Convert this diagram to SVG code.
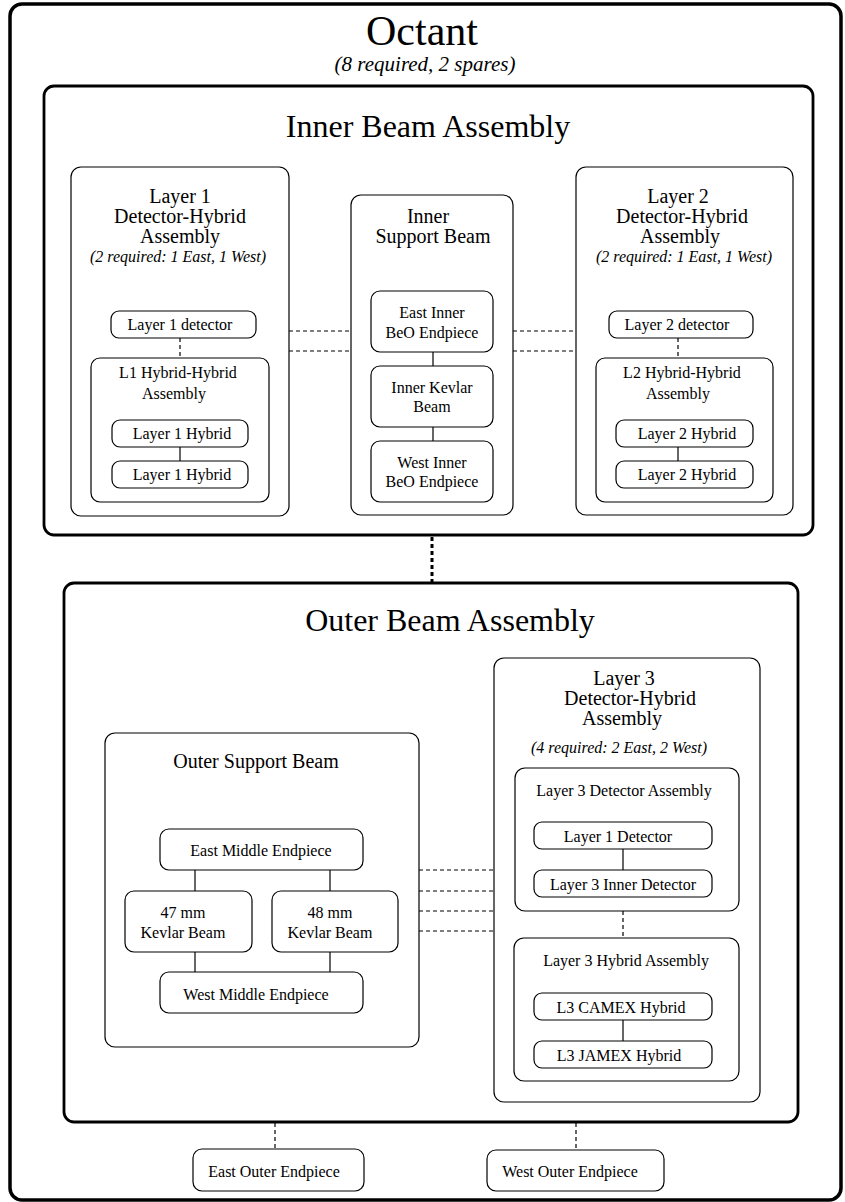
<svg xmlns="http://www.w3.org/2000/svg" width="845" height="1202" viewBox="0 0 845 1202">
<style>
text{font-family:"Liberation Serif","Times New Roman",serif;fill:#000;text-anchor:middle}
.big{font-size:42px}
.h1{font-size:32px}
.h2{font-size:20px}
.s{font-size:16px}
.it{font-style:italic;font-size:16px}
.it2{font-style:italic;font-size:21px}
.b3{fill:#fff;stroke:#000;stroke-width:3.5}
.b2{fill:#fff;stroke:#000;stroke-width:2.8}
.b1{fill:#fff;stroke:#000;stroke-width:1.2}
.solid{stroke:#000;stroke-width:1.2;fill:none}
.dash{stroke:#000;stroke-width:1.2;fill:none;stroke-dasharray:4 3}
.dot{stroke:#000;stroke-width:3;fill:none;stroke-dasharray:4 3}
</style>
<rect width="845" height="1202" fill="#fff"/>
<g id="octant">
<rect class="b3" x="10" y="4" width="831" height="1196" rx="12"/>
<text class="big" x="422" y="45">Octant</text>
<text class="it2" x="425" y="71">(8 required, 2 spares)</text>
</g>
<g id="inner-beam-assembly">
<rect class="b2" x="44" y="86" width="769" height="449" rx="10"/>
<text class="h1" x="428" y="137">Inner Beam Assembly</text>
</g>
<g id="layer1-dha">
<rect class="b1" x="71" y="167" width="218" height="349" rx="10"/>
<text class="h2" x="180" y="203">Layer 1</text>
<text class="h2" x="180" y="223">Detector-Hybrid</text>
<text class="h2" x="180" y="243">Assembly</text>
<text class="it" x="178" y="262">(2 required: 1 East, 1 West)</text>
</g>
<g id="layer1-detector">
<rect class="b1" x="111" y="311" width="145" height="27" rx="8"/>
<text class="s" x="180" y="330">Layer 1 detector</text>
</g>
<g id="l1-hh">
<rect class="b1" x="91" y="358" width="178" height="144" rx="9"/>
<text class="s" x="178" y="378">L1 Hybrid-Hybrid</text>
<text class="s" x="174" y="399">Assembly</text>
</g>
<g id="layer1-hybrid-a">
<rect class="b1" x="112" y="420" width="136" height="27" rx="8"/>
<text class="s" x="182" y="439">Layer 1 Hybrid</text>
</g>
<g id="layer1-hybrid-b">
<rect class="b1" x="112" y="461" width="136" height="27" rx="8"/>
<text class="s" x="182" y="480">Layer 1 Hybrid</text>
</g>
<g id="inner-support-beam">
<rect class="b1" x="351" y="195" width="162" height="320" rx="10"/>
<text class="h2" x="428" y="223">Inner</text>
<text class="h2" x="433" y="243">Support Beam</text>
</g>
<g id="east-inner-beo">
<rect class="b1" x="371" y="291" width="122" height="61" rx="9"/>
<text class="s" x="432" y="318">East Inner</text>
<text class="s" x="432" y="338">BeO Endpiece</text>
</g>
<g id="inner-kevlar">
<rect class="b1" x="371" y="366" width="122" height="61" rx="9"/>
<text class="s" x="432" y="393">Inner Kevlar</text>
<text class="s" x="432" y="412">Beam</text>
</g>
<g id="west-inner-beo">
<rect class="b1" x="371" y="441" width="122" height="61" rx="9"/>
<text class="s" x="432" y="468">West Inner</text>
<text class="s" x="432" y="487">BeO Endpiece</text>
</g>
<g id="layer2-dha">
<rect class="b1" x="576" y="167" width="217" height="348" rx="10"/>
<text class="h2" x="678" y="203">Layer 2</text>
<text class="h2" x="682" y="223">Detector-Hybrid</text>
<text class="h2" x="680" y="243">Assembly</text>
<text class="it" x="684" y="262">(2 required: 1 East, 1 West)</text>
</g>
<g id="layer2-detector">
<rect class="b1" x="609" y="311" width="144" height="27" rx="8"/>
<text class="s" x="677" y="330">Layer 2 detector</text>
</g>
<g id="l2-hh">
<rect class="b1" x="596" y="358" width="177" height="144" rx="9"/>
<text class="s" x="682" y="378">L2 Hybrid-Hybrid</text>
<text class="s" x="678" y="399">Assembly</text>
</g>
<g id="layer2-hybrid-a">
<rect class="b1" x="616" y="420" width="137" height="27" rx="8"/>
<text class="s" x="687" y="439">Layer 2 Hybrid</text>
</g>
<g id="layer2-hybrid-b">
<rect class="b1" x="616" y="461" width="137" height="27" rx="8"/>
<text class="s" x="687" y="480">Layer 2 Hybrid</text>
</g>
<g id="outer-beam-assembly">
<rect class="b2" x="64" y="583" width="734" height="539" rx="10"/>
<text class="h1" x="450" y="631">Outer Beam Assembly</text>
</g>
<g id="outer-support-beam">
<rect class="b1" x="105" y="733" width="314" height="314" rx="10"/>
<text class="h2" x="256" y="768">Outer Support Beam</text>
</g>
<g id="east-middle-endpiece">
<rect class="b1" x="160" y="829" width="203" height="41" rx="9"/>
<text class="s" x="261" y="856">East Middle Endpiece</text>
</g>
<g id="kevlar-47">
<rect class="b1" x="125" y="891" width="127" height="61" rx="9"/>
<text class="s" x="183" y="918">47 mm</text>
<text class="s" x="183" y="938">Kevlar Beam</text>
</g>
<g id="kevlar-48">
<rect class="b1" x="272" y="891" width="126" height="61" rx="9"/>
<text class="s" x="330" y="918">48 mm</text>
<text class="s" x="330" y="938">Kevlar Beam</text>
</g>
<g id="west-middle-endpiece">
<rect class="b1" x="160" y="972" width="203" height="41" rx="9"/>
<text class="s" x="256" y="1000">West Middle Endpiece</text>
</g>
<g id="layer3-dha">
<rect class="b1" x="494" y="658" width="266" height="444" rx="10"/>
<text class="h2" x="624" y="685">Layer 3</text>
<text class="h2" x="630" y="705">Detector-Hybrid</text>
<text class="h2" x="622" y="725">Assembly</text>
<text class="it" x="619" y="753">(4 required: 2 East, 2 West)</text>
</g>
<g id="layer3-detector-assembly">
<rect class="b1" x="515" y="768" width="224" height="143" rx="10"/>
<text class="s" x="624" y="796">Layer 3 Detector Assembly</text>
</g>
<g id="layer1-detector-l3">
<rect class="b1" x="534" y="822" width="178" height="27" rx="8"/>
<text class="s" x="618" y="842">Layer 1 Detector</text>
</g>
<g id="layer3-inner-detector">
<rect class="b1" x="534" y="870" width="178" height="27" rx="8"/>
<text class="s" x="623" y="890">Layer 3 Inner Detector</text>
</g>
<g id="layer3-hybrid-assembly">
<rect class="b1" x="514" y="938" width="225" height="143" rx="10"/>
<text class="s" x="626" y="966">Layer 3 Hybrid Assembly</text>
</g>
<g id="l3-camex">
<rect class="b1" x="534" y="993" width="178" height="27" rx="8"/>
<text class="s" x="621" y="1013">L3 CAMEX Hybrid</text>
</g>
<g id="l3-jamex">
<rect class="b1" x="534" y="1041" width="178" height="27" rx="8"/>
<text class="s" x="619" y="1061">L3 JAMEX Hybrid</text>
</g>
<g id="east-outer-endpiece">
<rect class="b1" x="193" y="1149" width="171" height="42" rx="9"/>
<text class="s" x="274" y="1177">East Outer Endpiece</text>
</g>
<g id="west-outer-endpiece">
<rect class="b1" x="487" y="1150" width="177" height="41" rx="9"/>
<text class="s" x="570" y="1177">West Outer Endpiece</text>
</g>
<g id="connectors">
<line class="dash" x1="180" y1="338" x2="180" y2="358"/>
<line class="solid" x1="180" y1="447" x2="180" y2="461"/>
<line class="dash" x1="289" y1="331" x2="351" y2="331"/>
<line class="dash" x1="289" y1="351" x2="351" y2="351"/>
<line class="solid" x1="433" y1="352" x2="433" y2="366"/>
<line class="solid" x1="433" y1="427" x2="433" y2="441"/>
<line class="dash" x1="513" y1="331" x2="576" y2="331"/>
<line class="dash" x1="513" y1="351" x2="576" y2="351"/>
<line class="dash" x1="678" y1="338" x2="678" y2="358"/>
<line class="solid" x1="678" y1="447" x2="678" y2="461"/>
<line class="dot" x1="432" y1="537" x2="432" y2="582"/>
<line class="solid" x1="195" y1="870" x2="195" y2="891"/>
<line class="solid" x1="330" y1="870" x2="330" y2="891"/>
<line class="solid" x1="195" y1="952" x2="195" y2="972"/>
<line class="solid" x1="330" y1="952" x2="330" y2="972"/>
<line class="dash" x1="419" y1="870" x2="494" y2="870"/>
<line class="dash" x1="419" y1="891" x2="494" y2="891"/>
<line class="dash" x1="419" y1="911" x2="494" y2="911"/>
<line class="dash" x1="419" y1="931" x2="494" y2="931"/>
<line class="solid" x1="623" y1="849" x2="623" y2="870"/>
<line class="dash" x1="623" y1="911" x2="623" y2="938"/>
<line class="solid" x1="623" y1="1020" x2="623" y2="1041"/>
<line class="dash" x1="275" y1="1123" x2="275" y2="1149"/>
<line class="dash" x1="576" y1="1123" x2="576" y2="1150"/>
</g>
</svg>
